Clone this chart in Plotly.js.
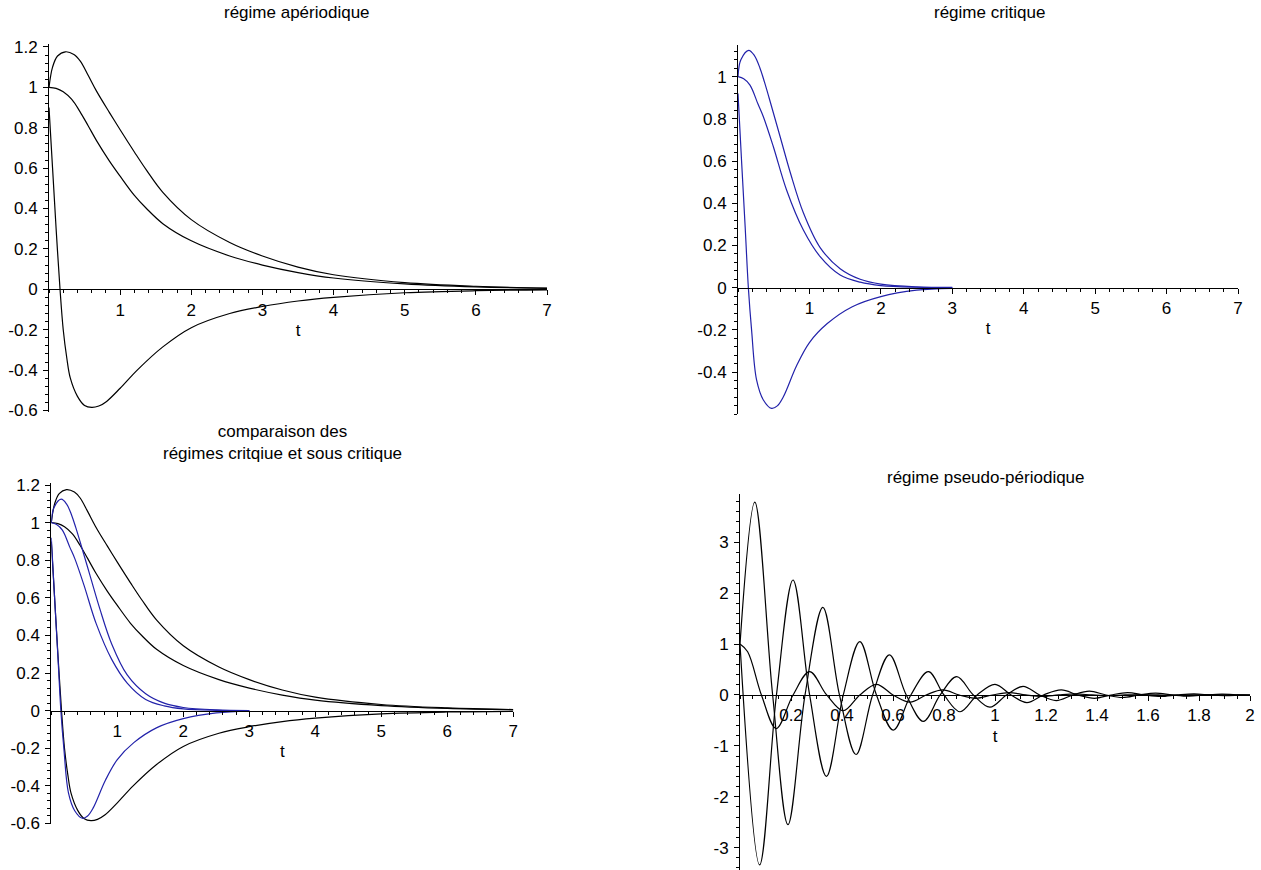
<!DOCTYPE html>
<html>
<head>
<meta charset="utf-8">
<script src="https://cdn.plot.ly/plotly-3.0.1.min.js"></script>
<style>html,body{margin:0;padding:0;background:#fff;}#chart{width:1261px;height:870px;}</style>
</head>
<body>
<div id="chart"></div>
<script>
// ---------- data ----------
// régime apériodique (black curves)
const aperUpperT = [0, 0.05, 0.12, 0.23, 0.35, 0.44, 0.55, 0.67, 0.85, 1.0, 1.2, 1.37, 1.6, 2.0, 2.54, 3.0, 3.5, 4.0, 5.0, 6.0, 7.0];
const aperUpperY = [1.0, 1.10, 1.155, 1.176, 1.163, 1.13, 1.06, 0.98, 0.875, 0.79, 0.68, 0.59, 0.48, 0.345, 0.232, 0.165, 0.11, 0.072, 0.033, 0.015, 0.006];
const aperMidT = [0, 0.1, 0.2, 0.32, 0.435, 0.55, 0.67, 0.85, 1.0, 1.2, 1.37, 1.6, 2.0, 2.54, 3.0, 3.5, 4.0, 5.0, 6.0, 7.0];
const aperMidY = [1.0, 0.995, 0.978, 0.94, 0.88, 0.81, 0.735, 0.635, 0.56, 0.465, 0.4, 0.325, 0.24, 0.165, 0.12, 0.083, 0.056, 0.027, 0.012, 0.005];
const aperLowT = [0, 0.05, 0.1, 0.155, 0.2, 0.25, 0.3, 0.4, 0.5, 0.6, 0.7, 0.81, 1.0, 1.24, 1.6, 2.0, 2.54, 3.0, 3.5, 4.0, 5.0, 6.0, 7.0];
const aperLowY = [0.9, 0.6, 0.3, 0, -0.2, -0.34, -0.44, -0.53, -0.575, -0.585, -0.578, -0.555, -0.49, -0.4, -0.285, -0.19, -0.12, -0.085, -0.058, -0.04, -0.017, -0.007, -0.003];

// régime critique (blue curves)
const critUpperT = [0, 0.04, 0.15, 0.23, 0.308, 0.37, 0.435, 0.586, 0.737, 0.915, 1.15, 1.43, 1.71, 2.0, 2.5, 3.0];
const critUpperY = [1.0, 1.08, 1.125, 1.1, 1.04, 0.975, 0.9, 0.72, 0.54, 0.355, 0.19, 0.09, 0.04, 0.017, 0.004, 0.001];
const critMidT = [0, 0.08, 0.168, 0.28, 0.355, 0.495, 0.68, 0.915, 1.15, 1.43, 1.71, 2.0, 2.5, 3.0];
const critMidY = [1.0, 0.99, 0.96, 0.87, 0.81, 0.668, 0.463, 0.273, 0.147, 0.06, 0.026, 0.01, 0.002, 0.0];
const critLowT = [0, 0.05, 0.1, 0.145, 0.19, 0.26, 0.355, 0.47, 0.55, 0.635, 0.82, 1.0, 1.25, 1.6, 2.0, 2.5, 3.0];
const critLowY = [0.92, 0.6, 0.29, 0, -0.2, -0.437, -0.532, -0.572, -0.56, -0.517, -0.37, -0.26, -0.17, -0.09, -0.042, -0.012, -0.003];

// régime pseudo-périodique (black curves)
const pseudoAT = [0, 0.058, 0.128, 0.188, 0.255, 0.325, 0.39, 0.455, 0.52, 0.586, 0.652, 0.719, 0.785, 0.85, 0.915, 0.98, 1.045, 1.11, 1.175, 1.24, 1.305, 1.37, 1.435, 1.5, 1.565, 1.63, 1.695, 1.76, 1.825, 1.89, 1.955, 2.0];
const pseudoAY = [1.0, 3.79, 0, -2.55, 0, 1.72, 0, -1.17, 0, 0.79, 0, -0.52, 0, 0.36, 0, -0.24, 0, 0.17, 0, -0.11, 0, 0.075, 0, -0.05, 0, 0.035, 0, -0.024, 0, 0.016, 0, -0.01];
const pseudoBT = [0, 0.077, 0.143, 0.208, 0.273, 0.339, 0.405, 0.47, 0.535, 0.601, 0.67, 0.739, 0.8, 0.863, 0.93, 1.0, 1.063, 1.125, 1.19, 1.26, 1.325, 1.39, 1.455, 1.52, 1.585, 1.65, 1.715, 1.78, 1.845, 1.91, 1.975, 2.0];
const pseudoBY = [1.0, -3.34, 0, 2.26, 0, -1.6, 0, 1.05, 0, -0.69, 0, 0.46, 0, -0.33, 0, 0.21, 0, -0.15, 0, 0.1, 0, -0.065, 0, 0.045, 0, -0.03, 0, 0.02, 0, -0.013, 0, 0.003];
const pseudoCT = [0, 0.03, 0.084, 0.142, 0.208, 0.273, 0.34, 0.405, 0.47, 0.535, 0.6, 0.667, 0.73, 0.795, 0.86, 0.925, 0.99, 1.055, 1.12, 1.185, 1.25, 1.315, 1.38, 1.445, 1.51, 1.575, 1.64, 1.705, 1.77, 1.835, 1.9, 2.0];
const pseudoCY = [1.0, 0.85, 0, -0.66, 0, 0.46, 0, -0.31, 0, 0.21, 0, -0.14, 0, 0.1, 0, -0.065, 0, 0.045, 0, -0.03, 0, 0.02, 0, -0.013, 0, 0.009, 0, -0.006, 0, 0.004, 0, -0.002];

// tick labels
const tickT7 = [1, 2, 3, 4, 5, 6, 7];
const tickT2 = [0.2, 0.4, 0.6, 0.8, 1, 1.2, 1.4, 1.6, 1.8, 2];
const tickYaper = [-0.6, -0.4, -0.2, 0, 0.2, 0.4, 0.6, 0.8, 1, 1.2];
const tickYcrit = [-0.4, -0.2, 0, 0.2, 0.4, 0.6, 0.8, 1];
const tickYpseudo = [-3, -2, -1, 0, 1, 2, 3];

const titles = ['régime apériodique', 'régime critique', 'comparaison des<br>régimes critqiue et sous critique', 'régime pseudo-périodique'];

// ---------- layout ----------
const W = 1261, H = 870;
const BLACK = '#000000', BLUE = '#2222aa';
const FONT = 'Liberation Sans, Arial, sans-serif';

// panel plot areas in pixels: [left, right, top, bottom] and axis ranges
const panels = [
  {px: [49, 547, 43.9, 411.5], xr: [0, 7], yr: [-0.605, 1.215], xt: tickT7, yt: tickYaper, xminor: 0.2, yminor: 0.04},
  {px: [738, 1238, 45, 414.3], xr: [0, 7], yr: [-0.6, 1.15], xt: tickT7, yt: tickYcrit, xminor: 0.2, yminor: 0.04},
  {px: [51.3, 513.3, 483.2, 823.5], xr: [0, 7], yr: [-0.6, 1.21], xt: tickT7, yt: tickYaper, xminor: 0.2, yminor: 0.04},
  {px: [740, 1250, 494, 870], xr: [0, 2], yr: [-3.44, 3.95], xt: tickT2, yt: tickYpseudo, xminor: 0.05, yminor: 0.2}
];

function fmt(v) { return String(Math.round(v * 100) / 100); }

const layout = {
  width: W, height: H,
  margin: {l: 0, r: 0, t: 0, b: 0},
  paper_bgcolor: '#ffffff', plot_bgcolor: '#ffffff',
  showlegend: false,
  font: {family: FONT, size: 17, color: '#000'},
  annotations: []
};

const titlePos = [[297, 13], [990, 13], [282, 442], [986, 478]];

panels.forEach((p, i) => {
  const n = i + 1;
  const xd = [p.px[0] / W, p.px[1] / W];
  const yd = [1 - p.px[3] / H, 1 - p.px[2] / H];
  const zeroPos = yd[0] + (0 - p.yr[0]) / (p.yr[1] - p.yr[0]) * (yd[1] - yd[0]);
  layout['xaxis' + n] = {
    domain: xd, range: p.xr, anchor: 'free', position: zeroPos,
    showline: true, linecolor: '#000', linewidth: 1,
    showgrid: false, zeroline: false,
    ticks: 'outside', ticklen: 5, tickwidth: 1, tickcolor: '#000',
    tickmode: 'array', tickvals: p.xt, ticktext: p.xt.map(fmt),
    tickfont: {family: FONT, size: 17, color: '#000'},
    minor: {ticks: 'outside', ticklen: 3, tickwidth: 1, tickcolor: '#000', dtick: p.xminor, tick0: 0, showgrid: false},
    title: {text: 't', font: {family: FONT, size: 17, color: '#000'}, standoff: 5},
    fixedrange: true
  };
  layout['yaxis' + n] = {
    domain: yd, range: p.yr, anchor: 'x' + n,
    showline: true, linecolor: '#000', linewidth: 1,
    showgrid: false, zeroline: false,
    ticks: 'outside', ticklen: 5, tickwidth: 1, tickcolor: '#000',
    tickmode: 'array', tickvals: p.yt, ticktext: p.yt.map(fmt),
    tickfont: {family: FONT, size: 17, color: '#000'},
    ticklabelstandoff: 2,
    minor: {ticks: 'outside', ticklen: 3, tickwidth: 1, tickcolor: '#000', dtick: p.yminor, tick0: 0, showgrid: false},
    fixedrange: true
  };
  layout.annotations.push({
    text: titles[i], xref: 'paper', yref: 'paper',
    x: titlePos[i][0] / W, y: 1 - titlePos[i][1] / H,
    xanchor: 'center', yanchor: 'middle', showarrow: false,
    font: {family: FONT, size: 17, color: '#000'}
  });
});

function curve(t, y, color, n) {
  return {x: t, y: y, type: 'scatter', mode: 'lines', xaxis: 'x' + n, yaxis: 'y' + n,
    line: {color: color, width: 1.2, shape: 'spline', smoothing: 1}, hoverinfo: 'skip', cliponaxis: true};
}

const traces = [
  curve(aperUpperT, aperUpperY, BLACK, 1),
  curve(aperMidT, aperMidY, BLACK, 1),
  curve(aperLowT, aperLowY, BLACK, 1),
  curve(critUpperT, critUpperY, BLUE, 2),
  curve(critMidT, critMidY, BLUE, 2),
  curve(critLowT, critLowY, BLUE, 2),
  curve(aperUpperT, aperUpperY, BLACK, 3),
  curve(aperMidT, aperMidY, BLACK, 3),
  curve(aperLowT, aperLowY, BLACK, 3),
  curve(critUpperT, critUpperY, BLUE, 3),
  curve(critMidT, critMidY, BLUE, 3),
  curve(critLowT, critLowY, BLUE, 3),
  curve(pseudoAT, pseudoAY, BLACK, 4),
  curve(pseudoBT, pseudoBY, BLACK, 4),
  curve(pseudoCT, pseudoCY, BLACK, 4)
];

Plotly.newPlot('chart', traces, layout, {staticPlot: true, displayModeBar: false});
</script>
</body>
</html>
